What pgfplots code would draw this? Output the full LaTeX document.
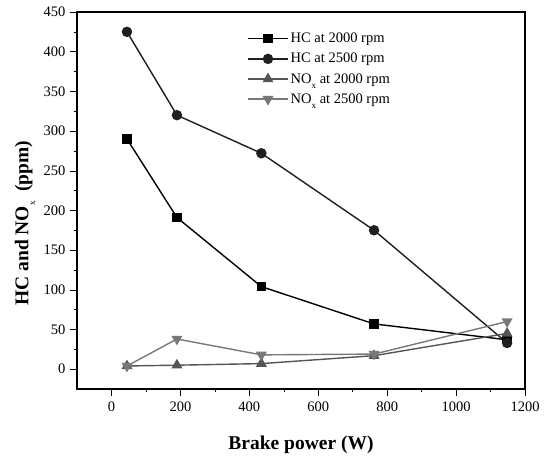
\documentclass[border=0pt]{standalone}
\usepackage{pgfplots}
\pgfplotsset{compat=1.18}
\usepackage{fontspec}
\setmainfont{Liberation Serif}
\definecolor{noxdark}{RGB}{85,85,85}
\definecolor{noxlight}{RGB}{120,120,120}
\newcommand{\lowx}{\raisebox{-0.75ex}{\fontsize{9}{9}\selectfont x}}
\begin{document}
\begin{tikzpicture}
\begin{axis}[
    scale only axis,
    width=448pt, height=377pt,
    xmin=-100, xmax=1200,
    ymin=-25, ymax=450,
    xtick={0,200,...,1200},
    ytick={0,50,...,450},
    minor x tick num=1,
    minor y tick num=1,
    tick align=outside,
    xtick pos=left, ytick pos=left,
    tick style={black, thin},
    major tick length=7pt, minor tick length=3pt,
    axis line style={line width=1.2pt},
    ticklabel style={font=\fontsize{14.5}{16}\selectfont},
    xticklabel style={yshift=-2pt},
    yticklabel style={xshift=-1pt},
    /pgf/number format/assume math mode=true,
    /pgf/number format/1000 sep={},
    xlabel={\textbf{Brake power (W)}},
    ylabel={\textbf{HC and NO}\lowx\textbf{\ \ (ppm)}},
    label style={font=\fontsize{19.5}{22}\selectfont},
    xlabel style={at={(axis description cs:0.5,-0.149)}, anchor=center},
    ylabel style={at={(axis description cs:-0.116,0.44)}, anchor=center},
    legend style={draw=none, fill=none, at={(0.373,0.955)}, anchor=north west,
        font=\fontsize{14.5}{16}\selectfont, row sep=5pt},
    legend cell align=left,
    legend image code/.code={\draw[mark repeat=2, mark phase=2] plot coordinates {(0pt,0pt) (20pt,0pt) (40pt,0pt)};},
]
\addplot[black, line width=1.4pt, mark=square*, mark size=4pt] coordinates {
(45,290) (190,191) (435,104) (762,57) (1148,37)};
\addlegendentry{HC at 2000 rpm}
\addplot[black!88, line width=1.4pt, mark=*, mark size=4.5pt] coordinates {
(45,425) (190,320) (435,272) (762,175) (1148,33)};
\addlegendentry{HC at 2500 rpm}
\addplot[noxdark, line width=1.4pt, mark=triangle*, mark size=5pt] coordinates {
(45,4) (190,5) (435,7) (762,17) (1148,45)};
\addlegendentry{NO\lowx\ at 2000 rpm}
\addplot[noxlight, line width=1.4pt, mark=triangle*, mark options={rotate=180}, mark size=5pt] coordinates {
(45,4) (190,38) (435,18) (762,19) (1148,60)};
\addlegendentry{NO\lowx\ at 2500 rpm}
\end{axis}
\pgfresetboundingbox
\path (current axis.south west) ++(-77pt,-69pt) coordinate (bl);
\path (current axis.north east) ++(21pt,12pt) coordinate (tr);
\path[use as bounding box] (bl) rectangle (tr);
\end{tikzpicture}
\end{document}
